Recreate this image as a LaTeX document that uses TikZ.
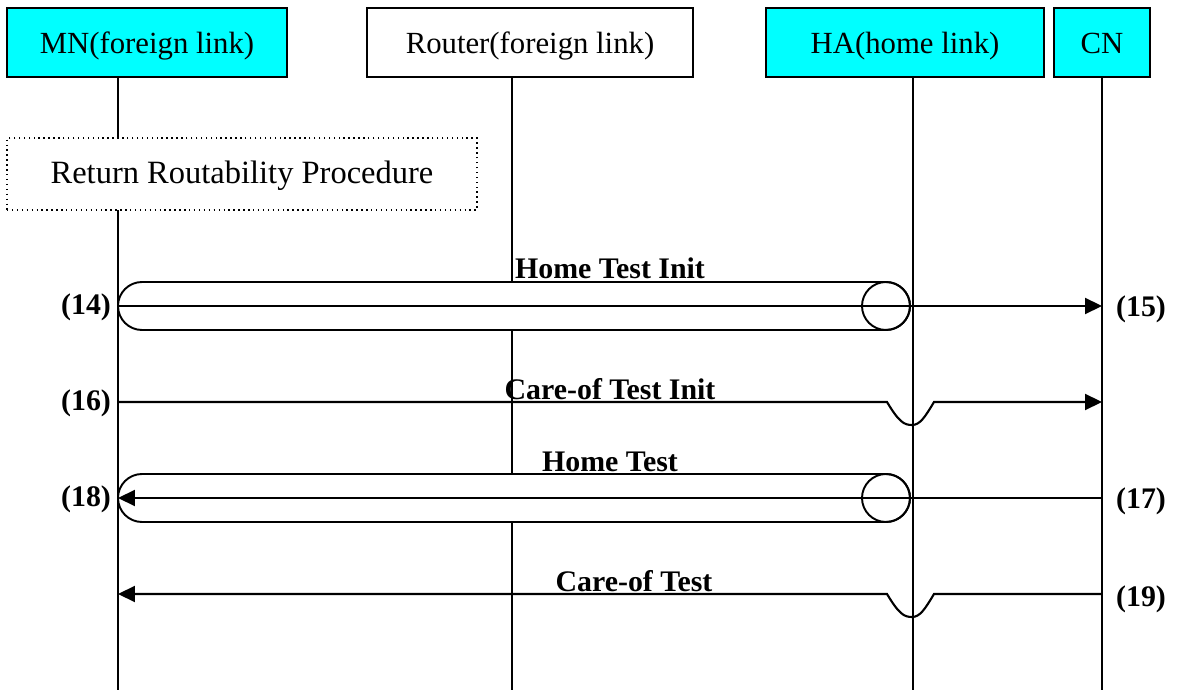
\documentclass[tikz,border=0pt]{standalone}
\usepackage{fontspec}
\setmainfont{Liberation Serif}
\usetikzlibrary{positioning,arrows.meta}
\definecolor{aqua}{RGB}{0,255,255}

\begin{document}
\begin{tikzpicture}[x=0.02cm,y=0.02cm,
    entity/.style={draw,line width=1.2pt,minimum height=1.38cm,inner sep=0pt,text height=13pt,text depth=0pt,font=\fontsize{17.5}{20}\selectfont},
    lifeline/.style={line width=1pt},
    tunnel/.style={draw,line width=1.1pt,fill=white},
    msg/.style={line width=1.2pt,-{Triangle[length=0.34cm,width=0.32cm]}},
    msglabel/.style={font=\fontsize{17}{20}\selectfont\bfseries,inner sep=0pt,anchor=base},
    num/.style={font=\fontsize{17}{20}\selectfont\bfseries,inner sep=0pt}]
    \useasboundingbox (0,0) rectangle (1180,690);

    \node[entity,fill=aqua,minimum width=5.6cm] (mn) at (147,647.5) {MN(foreign link)};
    \node[entity,minimum width=6.52cm] (router) at (530,647.5) {Router(foreign link)};
    \node[entity,fill=aqua,minimum width=5.56cm] (ha) at (905,647.5) {HA(home link)};
    \node[entity,fill=aqua,minimum width=1.92cm] (cn) at (1102,647.5) {CN};

    \foreach \n/\x in {mn/118,router/512,ha/913,cn/1102} {
        \coordinate (\n-top) at (\x,613);
        \coordinate (\n-end) at (\x,0);
        \draw[lifeline] (\n-top) -- (\n-end);
    }

    \node[draw,dotted,line width=0.8pt,fill=white,minimum width=9.4cm,minimum height=1.44cm,
        text height=11pt,text depth=0pt,
        font=\fontsize{18.5}{21}\selectfont] (rrp) at (242,516) {Return Routability Procedure};

    % tunnels MN <-> HA
    \foreach \y in {384,192} {
        \draw[tunnel] (142,\y+24) -- (886,\y+24) arc[start angle=90,end angle=-90,radius=24]
            -- (142,\y-24) arc[start angle=270,end angle=90,radius=24] -- cycle;
        \draw[line width=1.1pt] (886,\y) circle[radius=24];
    }

    \coordinate (p14) at (118,384);
    \coordinate (p15) at (1102,384);
    \coordinate (p16) at (118,288);
    \coordinate (p16e) at (1102,288);
    \coordinate (p17) at (1102,192);
    \coordinate (p18) at (118,192);
    \coordinate (p19) at (1102,96);
    \coordinate (p19e) at (118,96);

    \draw[msg] (p14) -- (p15);
    \draw[msg] (p16) -- (887,288) .. controls (899,268) and (904,265) .. (912,265)
        .. controls (920,265) and (925,273) .. (934,288) -- (p16e);
    \draw[msg] (p17) -- (p18);
    \draw[msg] (p19) -- (934,96) .. controls (925,81) and (920,73) .. (912,73)
        .. controls (904,73) and (899,76) .. (887,96) -- (p19e);

    \node[msglabel] (hti) at (610,411) {Home Test Init};
    \node[msglabel] (coti) at (610,290) {Care-of Test Init};
    \node[msglabel] (ht) at (610,218) {Home Test};
    \node[msglabel] (cot) at (634,98) {Care-of Test};

    \node[num] (n14) at (86,383) {(14)};
    \node[num] (n15) at (1141,381) {(15)};
    \node[num] (n16) at (86,287) {(16)};
    \node[num] (n17) at (1141,189) {(17)};
    \node[num] (n18) at (86,191) {(18)};
    \node[num] (n19) at (1141,91) {(19)};
\end{tikzpicture}
\end{document}
